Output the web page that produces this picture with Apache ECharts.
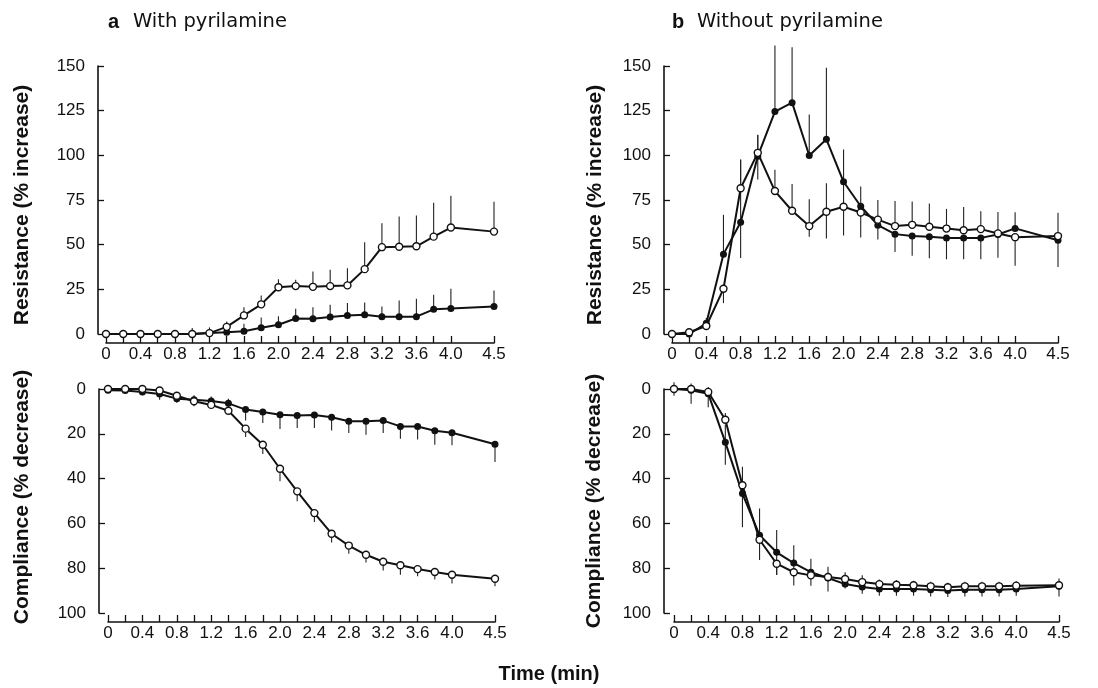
<!DOCTYPE html>
<html>
<head>
<meta charset="utf-8">
<script src="https://cdn.jsdelivr.net/npm/echarts@6/dist/echarts.min.js"></script>
<style>
  html, body { margin: 0; padding: 0; background: #fff; }
  #chart { width: 1098px; height: 688px; }
</style>
</head>
<body>
<div id="chart"></div>
<script>
// time points (min)
const times = [0, 0.2, 0.4, 0.6, 0.8, 1.0, 1.2, 1.4, 1.6, 1.8, 2.0, 2.2, 2.4, 2.6, 2.8, 3.0, 3.2, 3.4, 3.6, 3.8, 4.0, 4.5];
const xTickLabels = ['0', '0.4', '0.8', '1.2', '1.6', '2.0', '2.4', '2.8', '3.2', '3.6', '4.0', '4.5'];
const xTickValues = xTickLabels.map(Number);

// a: with pyrilamine, resistance (% increase); errors are [minus, plus]
const aResOpen = [0, 0, 0, 0, 0, 0, 0.5, 4, 10.4, 16.6, 26.2, 26.8, 26.4, 26.8, 27.2, 36.3, 48.6, 48.8, 49.1, 54.5, 59.6, 57.3];
const aResOpenErr = [[0, 0], [0, 0], [0, 0], [0, 0], [0, 0], [0, 0], [0, 0], [0, 3], [0, 4.6], [0, 5], [0, 4.5], [0, 3.5], [0, 8.6], [0, 9.2], [0, 9.6], [0, 15], [0, 13.4], [0, 17], [0, 17.2], [0, 19], [0, 17.8], [0, 16.7]];
const aResFilled = [0, 0, 0, 0, 0, 0, 0.5, 1, 1.5, 3.5, 5.2, 8.7, 8.6, 9.5, 10.4, 10.8, 9.7, 9.7, 9.7, 13.8, 14.3, 15.4];
const aResFilledErr = [[0, 0], [0, 0], [0, 0], [0, 0], [0, 0], [0, 3.4], [0, 3.2], [0, 4.8], [0, 4.3], [0, 5.8], [0, 4.7], [0, 5.4], [0, 6.4], [0, 6.9], [0, 6.9], [0, 6.9], [0, 5.7], [0, 9.1], [0, 10], [0, 8.2], [0, 11], [0, 9]];

// a: with pyrilamine, compliance (% decrease)
const aCompOpen = [0, 0, 0, 0.7, 3, 5.5, 7.1, 9.7, 17.7, 24.9, 35.6, 45.7, 55.4, 64.6, 69.9, 74, 77.1, 78.7, 80.4, 81.7, 82.9, 84.7];
const aCompOpenErr = [[0, 0], [0, 0], [0, 0], [0, 0], [0, 0], [0, 1], [0, 1.5], [0, 1.8], [0, 3.7], [0, 4.1], [0, 5.6], [0, 4.4], [0, 4], [0, 3.9], [0, 3.6], [0, 3.4], [0, 3.9], [0, 4.2], [0, 3.2], [0, 3.4], [0, 3.9], [0, 3.4]];
const aCompFilled = [0.6, 0.7, 1.3, 2.2, 4.3, 4.8, 5.4, 6.4, 9.2, 10.3, 11.5, 11.8, 11.6, 12.6, 14.4, 14.4, 14.1, 16.7, 16.7, 18.6, 19.5, 24.7];
const aCompFilledErr = [[0, 1.2], [0, 1.2], [0, 1.5], [0, 2.6], [0, 1.8], [2, 2.9], [2, 2.3], [2, 2.7], [0, 4.9], [0, 4.9], [0, 6.4], [0, 5.6], [0, 5.8], [0, 5.9], [0, 5.2], [0, 6], [0, 5.5], [0, 5.5], [0, 5.9], [0, 6.3], [0, 5.6], [0, 7.9]];

// b: without pyrilamine, resistance (% increase)
const bResOpen = [0, 1, 4.5, 25.3, 81.6, 101.4, 80, 69, 60.4, 68.4, 71.2, 68, 64, 60.4, 61.1, 60, 59, 58.1, 58.7, 56.3, 54.2, 54.8];
const bResOpenErr = [[0, 0], [0, 0], [0, 2], [8, 0], [0, 16], [0, 10], [0, 12], [0, 15], [6, 15], [15, 16], [16, 13], [14, 0], [0, 11], [0, 14], [0, 13], [0, 13], [0, 11], [0, 13], [0, 10], [0, 12], [16, 0], [0, 13]];
const bResFilled = [0, 0, 6, 44.7, 62.5, 99.5, 124.5, 129.5, 99.9, 109, 85.2, 71.5, 60.9, 55.9, 54.8, 54.4, 53.8, 53.8, 53.8, 55.7, 59.1, 52.5];
const bResFilledErr = [[0, 0], [0, 0], [0, 3], [0, 22], [20, 35], [13, 12], [0, 37], [0, 31], [0, 23], [0, 40], [0, 18], [0, 11], [8, 0], [10, 0], [11, 0], [12, 0], [12, 0], [12, 0], [12, 0], [13, 0], [0, 9], [15, 0]];

// b: without pyrilamine, compliance (% decrease)
const bCompOpen = [0, 0, 1.3, 13.7, 43, 67.3, 78, 81.8, 83.2, 83.9, 84.8, 86.2, 87.1, 87.4, 87.6, 88.1, 88.5, 88.1, 88.1, 88.1, 87.8, 87.6];
const bCompOpenErr = [[0, 0], [0, 0], [0, 0], [3, 0], [0, 0], [0, 0], [0, 5], [0, 0], [0, 0], [0, 0], [3, 0], [3, 0], [2, 0], [2, 0], [2, 0], [2, 0], [2, 0], [2, 0], [2, 0], [2, 0], [2, 0], [3, 0]];
const bCompFilled = [0, 0.6, 2.1, 23.8, 46.7, 65.3, 72.9, 77.7, 81.8, 84.4, 87.1, 88.4, 89.3, 89.3, 89.3, 89.6, 89.9, 89.6, 89.6, 89.6, 89.3, 88.1];
const bCompFilledErr = [[3, 3], [3, 6], [3, 6], [8, 10], [12, 15], [12, 11], [10, 10], [8, 10], [6, 6], [5, 6], [0, 2], [0, 3], [0, 3], [0, 3], [0, 3], [0, 3], [0, 3], [0, 3], [0, 3], [0, 3], [0, 3], [0, 4.5]];

const INK = '#111';
const FONT = 'Liberation Sans';
const TITLE_FONT = 'DejaVu Sans';

function xAxisFor(idx) {
  return {
    gridIndex: idx, type: 'value', position: 'bottom', min: 0, max: 4.5, offset: 9,
    axisLine: { onZero: false, lineStyle: { color: INK, width: 1.6 } },
    axisTick: { inside: true, length: 7, customValues: times, lineStyle: { color: INK, width: 1.3 } },
    axisLabel: {
      customValues: xTickValues, margin: 3, color: INK, fontSize: 17, fontFamily: FONT,
      formatter: (v) => xTickLabels[xTickValues.findIndex((t) => Math.abs(t - v) < 1e-6)]
    },
    splitLine: { show: false }
  };
}

function yAxisFor(idx, max, interval, inverse, offset) {
  return {
    gridIndex: idx, type: 'value', position: 'left', min: 0, max, interval, inverse, offset,
    axisLine: { show: true, onZero: false, lineStyle: { color: INK, width: 1.6 } },
    axisTick: { show: true, inside: true, length: 6, lineStyle: { color: INK, width: 1.3 } },
    axisLabel: { margin: 13, color: INK, fontSize: 17, fontFamily: FONT },
    splitLine: { show: false }
  };
}

function lineSeries(idx, values, filled) {
  return {
    type: 'line', xAxisIndex: idx, yAxisIndex: idx,
    data: times.map((t, i) => [t, values[i]]),
    symbol: 'circle', symbolSize: 7, showAllSymbol: true,
    lineStyle: { color: INK, width: 2 },
    itemStyle: { color: filled ? INK : '#fff', borderColor: INK, borderWidth: filled ? 0 : 1.4 },
    z: 3, animation: false, silent: true
  };
}

function errSeries(idx, values, err) {
  return {
    type: 'custom', xAxisIndex: idx, yAxisIndex: idx, clip: false,
    data: times.map((t, i) => [t, values[i] - err[i][0], values[i] + err[i][1]]),
    renderItem: (params, api) => {
      const p1 = api.coord([api.value(0), api.value(1)]);
      const p2 = api.coord([api.value(0), api.value(2)]);
      return {
        type: 'line',
        shape: { x1: p1[0], y1: p1[1], x2: p2[0], y2: p2[1] },
        style: { stroke: '#222', lineWidth: 1.1 }
      };
    },
    z: 2, animation: false, silent: true
  };
}

function label(text, x, y, opts) {
  return {
    type: 'text', x, y, rotation: opts.rotate ? Math.PI / 2 : 0,
    style: {
      text, fill: INK, font: `${opts.weight || 'normal'} ${opts.size}px "${opts.family || FONT}"`,
      textAlign: opts.align || 'left', textVerticalAlign: 'middle'
    }
  };
}

const chart = echarts.init(document.getElementById('chart'));
chart.setOption({
  backgroundColor: '#fff',
  animation: false,
  grid: [
    { left: 106, top: 66, width: 388, height: 268, outerBoundsMode: 'none' },
    { left: 108, top: 389, width: 387, height: 224, outerBoundsMode: 'none' },
    { left: 672, top: 66, width: 386, height: 268, outerBoundsMode: 'none' },
    { left: 674, top: 389, width: 385, height: 224, outerBoundsMode: 'none' }
  ],
  xAxis: [xAxisFor(0), xAxisFor(1), xAxisFor(2), xAxisFor(3)],
  yAxis: [
    yAxisFor(0, 150, 25, false, 8),
    yAxisFor(1, 100, 20, true, 9),
    yAxisFor(2, 150, 25, false, 8),
    yAxisFor(3, 100, 20, true, 10)
  ],
  series: [
    errSeries(0, aResOpen, aResOpenErr),
    errSeries(0, aResFilled, aResFilledErr),
    lineSeries(0, aResFilled, true),
    lineSeries(0, aResOpen, false),
    errSeries(1, aCompOpen, aCompOpenErr),
    errSeries(1, aCompFilled, aCompFilledErr),
    lineSeries(1, aCompFilled, true),
    lineSeries(1, aCompOpen, false),
    errSeries(2, bResOpen, bResOpenErr),
    errSeries(2, bResFilled, bResFilledErr),
    lineSeries(2, bResFilled, true),
    lineSeries(2, bResOpen, false),
    errSeries(3, bCompOpen, bCompOpenErr),
    errSeries(3, bCompFilled, bCompFilledErr),
    lineSeries(3, bCompFilled, true),
    lineSeries(3, bCompOpen, false)
  ],
  graphic: [
    label('a', 108, 22, { size: 20, weight: 'bold' }),
    label('With pyrilamine', 133, 22, { size: 19.5, family: TITLE_FONT }),
    label('b', 672, 22, { size: 20, weight: 'bold' }),
    label('Without pyrilamine', 697, 22, { size: 19.5, family: TITLE_FONT }),
    label('Resistance (% increase)', 22, 205, { size: 21, weight: 'bold', align: 'center', rotate: true }),
    label('Compliance (% decrease)', 22, 497, { size: 21, weight: 'bold', align: 'center', rotate: true }),
    label('Resistance (% increase)', 595, 205, { size: 21, weight: 'bold', align: 'center', rotate: true }),
    label('Compliance (% decrease)', 594, 501, { size: 21, weight: 'bold', align: 'center', rotate: true }),
    label('Time (min)', 549, 674, { size: 20, weight: 'bold', align: 'center' })
  ]
});
window.addEventListener('resize', () => chart.resize());
</script>
</body>
</html>
